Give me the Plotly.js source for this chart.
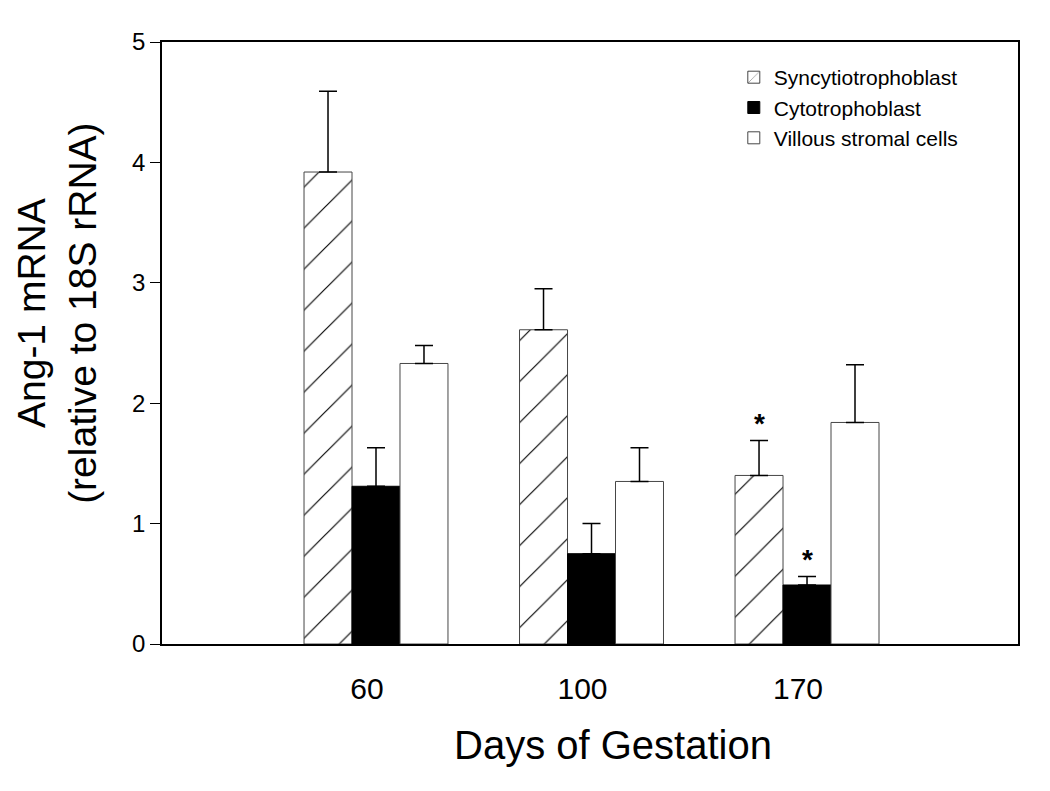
<!DOCTYPE html>
<html>
<head>
<meta charset="utf-8">
<script src="https://cdn.plot.ly/plotly-3.0.1.min.js"></script>
<style>
  html, body { margin: 0; padding: 0; background: #fff; }
  #chart { width: 1050px; height: 791px; }
</style>
</head>
<body>
<div id="chart"></div>
<script>
const days = ['60', '100', '170']

const syncytio = [3.92, 2.61, 1.40]
const syncytioErr = [0.67, 0.34, 0.29]
const cyto = [1.31, 0.75, 0.49]
const cytoErr = [0.32, 0.25, 0.07]
const stromal = [2.33, 1.35, 1.84]
const stromalErr = [0.15, 0.28, 0.48]

// which bars carry a significance star: [series index, day index]
const starred = [[0, 2], [1, 2]]

const fontFamily = '"Liberation Sans", Arial, Helvetica, sans-serif'
const colorEdge = 'rgb(70,70,70)'
const bargap = 0.332
const barWidth = (1 - bargap) / 3

const upperError = errs => ({
	type: 'data',
	symmetric: false,
	array: errs,
	arrayminus: errs.map(() => 0),
	color: 'black',
	thickness: 1.5,
	width: 9
})

const data = [
	{
		x: days,
		y: syncytio,
		type: 'bar',
		name: 'Syncytiotrophoblast',
		marker: {
			color: 'white',
			line: {color: colorEdge, width: 1},
			pattern: {shape: '/', fgcolor: 'black', size: 29, solidity: 0.04, fillmode: 'replace'}
		},
		error_y: upperError(syncytioErr)
	},
	{
		x: days,
		y: cyto,
		type: 'bar',
		name: 'Cytotrophoblast',
		marker: {color: 'black', line: {color: 'black', width: 1}},
		error_y: upperError(cytoErr)
	},
	{
		x: days,
		y: stromal,
		type: 'bar',
		name: 'Villous stromal cells',
		marker: {color: 'white', line: {color: colorEdge, width: 1}},
		error_y: upperError(stromalErr)
	}
]

const seriesTops = [
	syncytio.map((v, i) => v + syncytioErr[i]),
	cyto.map((v, i) => v + cytoErr[i]),
	stromal.map((v, i) => v + stromalErr[i])
]

const stars = starred.map(([s, d]) => ({
	x: d + (s - 1) * barWidth,
	y: seriesTops[s][d],
	xref: 'x',
	yref: 'y',
	text: '*',
	showarrow: false,
	yanchor: 'bottom',
	yshift: 0,
	font: {family: fontFamily, size: 28, color: 'black', weight: 'bold'}
}))

const layout = {
	width: 1050,
	height: 791,
	margin: {l: 162, r: 32, t: 42, b: 147},
	paper_bgcolor: 'white',
	plot_bgcolor: 'white',
	font: {family: fontFamily, color: 'black'},
	barmode: 'group',
	bargap: bargap,
	bargroupgap: 0,
	showlegend: true,
	legend: {
		x: 0.668,
		y: 0.975,
		xanchor: 'left',
		yanchor: 'top',
		bgcolor: 'rgba(0,0,0,0)',
		font: {size: 21, family: fontFamily, color: 'black'},
		tracegroupgap: 0
	},
	xaxis: {
		type: 'category',
		range: [-0.993, 2.979],
		showline: true,
		mirror: true,
		linecolor: 'black',
		linewidth: 1.5,
		ticks: '',
		showgrid: false,
		zeroline: false,
		ticklabelstandoff: 17,
		ticklabelshift: -9,
		tickfont: {size: 30, family: fontFamily, color: 'black'}
	},
	yaxis: {
		range: [0, 5],
		dtick: 1,
		showline: true,
		mirror: true,
		linecolor: 'black',
		linewidth: 1.5,
		ticks: 'outside',
		ticklen: 10,
		tickwidth: 1.2,
		tickcolor: 'black',
		showgrid: false,
		zeroline: false,
		tickfont: {size: 24, family: fontFamily, color: 'black'}
	},
	annotations: [
		{
			text: 'Ang-1 mRNA<br>(relative to 18S rRNA)',
			xref: 'paper', yref: 'paper',
			x: -0.1227, y: 0.55,
			xanchor: 'center', yanchor: 'middle',
			textangle: -90,
			showarrow: false,
			font: {size: 39, family: fontFamily, color: 'black'}
		},
		{
			text: 'Days of Gestation',
			xref: 'paper', yref: 'paper',
			x: 0.527, y: -0.168,
			xanchor: 'center', yanchor: 'middle',
			showarrow: false,
			font: {size: 40, family: fontFamily, color: 'black'}
		},
		...stars
	]
}

Plotly.newPlot('chart', data, layout, {displayModeBar: false})
</script>
</body>
</html>
